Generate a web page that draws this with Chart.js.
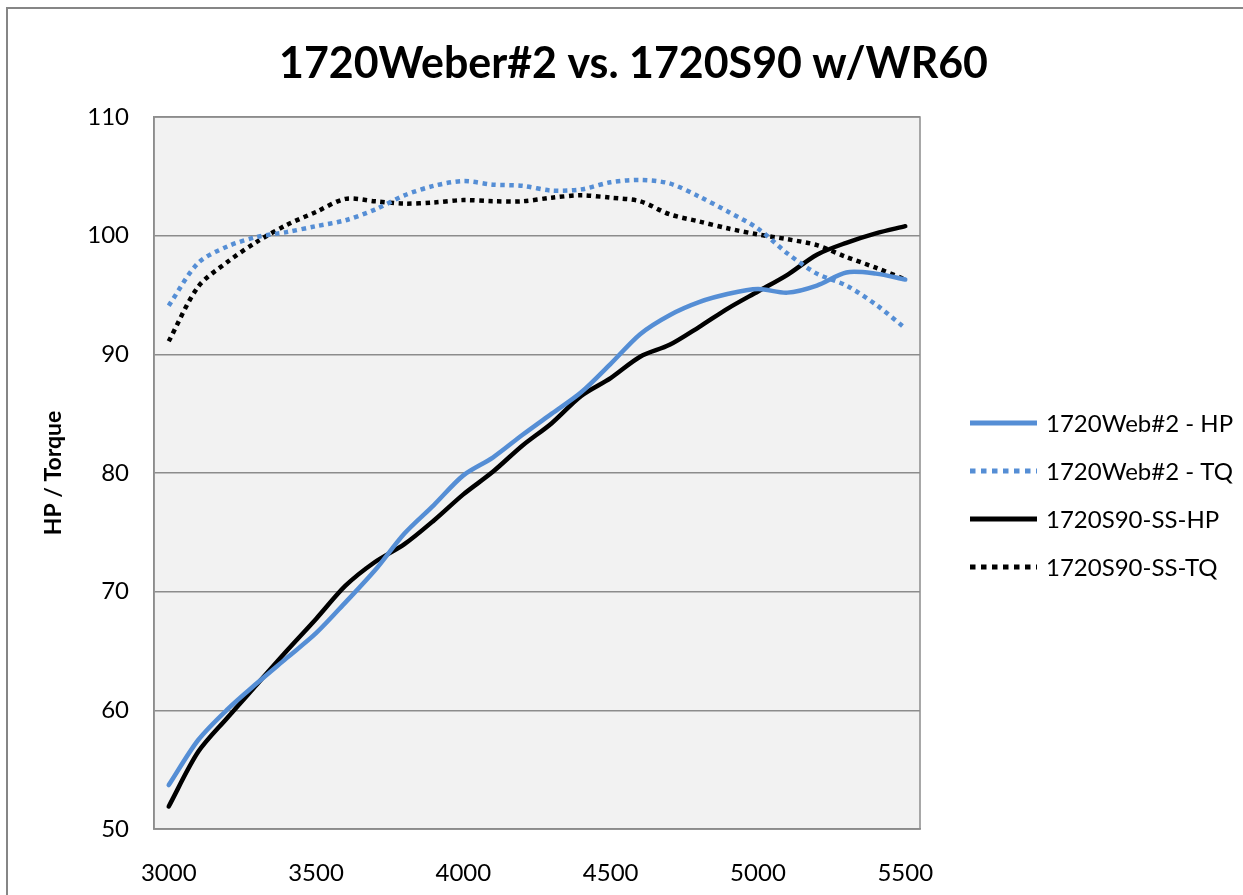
<!DOCTYPE html>
<html>
<head>
<meta charset="utf-8">
<script src="https://cdn.jsdelivr.net/npm/chart.js@4.4.1/dist/chart.umd.min.js"></script>
<style>
  body { margin: 0; background: #fff; }
  #wrap { position: absolute; left: 0; top: 0; width: 1243px; height: 895px; }
</style>
</head>
<body>
<div id="wrap"><canvas id="myChart" width="1243" height="895"></canvas></div>
<script>
// rpm categories
const rpm = ['3000','3100','3200','3300','3400','3500','3600','3700','3800','3900','4000','4100','4200',
             '4300','4400','4500','4600','4700','4800','4900','5000','5100','5200','5300','5400','5500'];
const yTicks = [50, 60, 70, 80, 90, 100, 110];

const webHP = [53.7, 57.5, 60.1, 62.3, 64.4, 66.5, 69.1, 71.8, 74.9, 77.3, 79.8, 81.3, 83.2,
               85.0, 86.8, 89.2, 91.7, 93.3, 94.4, 95.1, 95.5, 95.2, 95.8, 96.9, 96.8, 96.3];
const webTQ = [94.1, 97.7, 99.1, 99.9, 100.3, 100.8, 101.3, 102.2, 103.4, 104.2, 104.6, 104.3, 104.2,
               103.8, 103.9, 104.5, 104.7, 104.4, 103.3, 102.0, 100.6, 98.5, 96.8, 95.8, 94.2, 92.2];
const s90HP = [51.9, 56.5, 59.4, 62.2, 65.0, 67.7, 70.5, 72.5, 74.0, 76.0, 78.2, 80.1, 82.3,
               84.2, 86.5, 88.0, 89.8, 90.8, 92.3, 93.9, 95.3, 96.7, 98.4, 99.4, 100.2, 100.8];
const s90TQ = [91.1, 95.7, 97.8, 99.5, 100.9, 102.0, 103.1, 102.9, 102.7, 102.8, 103.0, 102.9, 102.9,
               103.2, 103.4, 103.2, 102.9, 101.8, 101.2, 100.6, 100.1, 99.7, 99.2, 98.2, 97.3, 96.3];

const seriesNames = ['1720Web#2 - HP', '1720Web#2 - TQ', '1720S90-SS-HP', '1720S90-SS-TQ'];
const titleText = '1720Weber#2 vs. 1720S90 w/WR60';
const yTitle = 'HP / Torque';

const BLUE = '#558ed5';
const GRID = '#8c8c8c';
const FONT = 'Lato, "Open Sans", sans-serif';

function mkSet(label, data, color, dashed) {
  return {
    label, data,
    borderColor: color, backgroundColor: color,
    borderWidth: 4.5,
    borderDash: dashed ? [4.5, 4.5] : [],
    borderCapStyle: dashed ? 'butt' : 'round',
    borderJoinStyle: 'round',
    pointRadius: 0, pointHoverRadius: 0,
    tension: 0.3, fill: false
  };
}

const data = {
  labels: rpm,
  datasets: [
    mkSet(seriesNames[0], webHP, BLUE, false),
    mkSet(seriesNames[1], webTQ, BLUE, true),
    mkSet(seriesNames[2], s90HP, '#000', false),
    mkSet(seriesNames[3], s90TQ, '#000', true)
  ]
};

const frame = {
  id: 'frame',
  beforeDraw(chart) {
    const { ctx, chartArea: { left, top, right, bottom } } = chart;
    ctx.save();
    ctx.fillStyle = '#fff';
    ctx.fillRect(0, 0, chart.width, chart.height);
    // outer chart border
    ctx.strokeStyle = '#868686';
    ctx.lineWidth = 2;
    ctx.strokeRect(7, 8, chart.width + 20, chart.height + 20);
    // plot area fill
    ctx.fillStyle = '#f2f2f2';
    ctx.fillRect(left, top, right - left, bottom - top);
    ctx.restore();
  },
  afterDraw(chart) {
    const { ctx, chartArea: { left, top, right, bottom } } = chart;
    ctx.save();
    ctx.strokeStyle = GRID;
    ctx.lineWidth = 1.5;
    ctx.strokeRect(left, top, right - left, bottom - top);

    // title, squeezed a bit to the width of the original narrow font
    ctx.fillStyle = '#000';
    ctx.font = 'bold 43px ' + FONT;
    ctx.textBaseline = 'alphabetic';
    ctx.textAlign = 'left';
    const w = ctx.measureText(titleText).width;
    const target = 709;
    ctx.save();
    ctx.translate(279, 78);
    ctx.scale(target / w, 1);
    ctx.fillText(titleText, 0, 0);
    ctx.restore();

    // y axis title
    ctx.save();
    ctx.translate(54, 473);
    ctx.rotate(-Math.PI / 2);
    ctx.font = 'bold 23px ' + FONT;
    ctx.textAlign = 'center';
    ctx.textBaseline = 'middle';
    ctx.fillText(yTitle, 0, 0);
    ctx.restore();

    // legend
    ctx.font = '24px ' + FONT;
    ctx.textAlign = 'left';
    ctx.textBaseline = 'middle';
    chart.data.datasets.forEach((ds, i) => {
      const y = 423 + i * 48;
      ctx.beginPath();
      ctx.strokeStyle = ds.borderColor;
      ctx.lineWidth = 5;
      ctx.lineCap = 'butt';
      ctx.setLineDash(ds.borderDash.length ? [5.5, 5.5] : []);
      ctx.moveTo(970, y);
      ctx.lineTo(1037, y);
      ctx.stroke();
      ctx.setLineDash([]);
      ctx.fillStyle = '#000';
      ctx.fillText(ds.label, 1046, y + 1);
    });
    ctx.restore();
  }
};

const config = {
  type: 'line',
  data,
  options: {
    responsive: false,
    animation: false,
    layout: { padding: { top: 117, right: 323, left: 0, bottom: 0 } },
    scales: {
      x: {
        offset: true,
        grid: { display: false, drawTicks: false },
        border: { display: true, color: GRID, width: 1.5 },
        afterFit: (s) => { s.height = 66; },
        ticks: {
          autoSkip: false, maxRotation: 0, padding: 30,
          color: '#000',
          font: { family: FONT, size: 24 },
          callback: function (v, i) {
            const lab = this.getLabelForValue(v);
            return Number(lab) % 500 === 0 ? lab : '';
          }
        }
      },
      y: {
        min: yTicks[0], max: yTicks[yTicks.length - 1],
        afterBuildTicks: (s) => { s.ticks = yTicks.map(v => ({ value: v })); },
        afterFit: (s) => { s.width = 154; },
        grid: { color: GRID, lineWidth: 1.5, drawTicks: false },
        border: { display: true, color: GRID, width: 1.5 },
        ticks: { padding: 25, color: '#000', font: { family: FONT, size: 24 } }
      }
    },
    plugins: {
      legend: { display: false },
      tooltip: { enabled: false }
    }
  },
  plugins: [frame]
};

const myChart = new Chart(document.getElementById('myChart'), config);
</script>
</body>
</html>
